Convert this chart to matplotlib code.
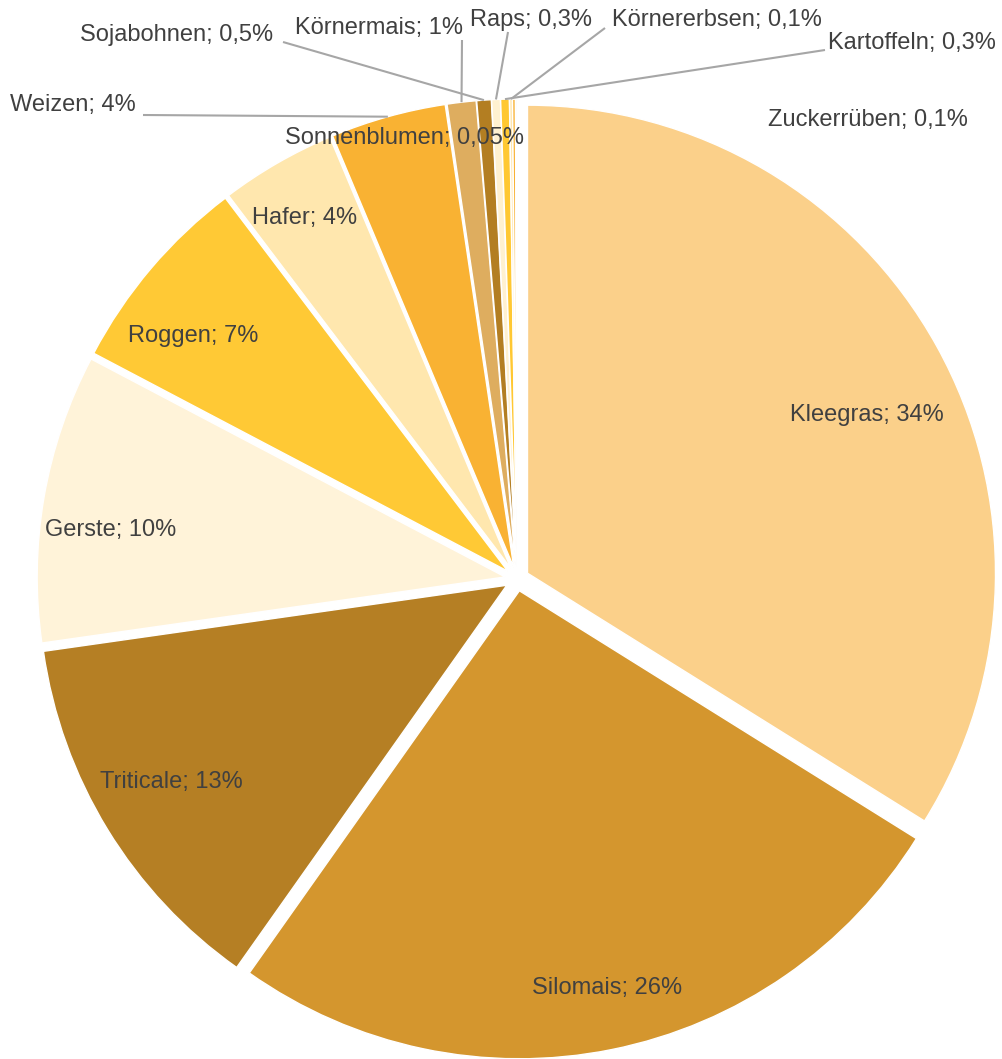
import numpy as np
import matplotlib.pyplot as plt

plt.rcParams['font.family'] = ['Liberation Sans', 'DejaVu Sans']

# Anteile der Kulturen (%)
crops = ["Kleegras", "Silomais", "Triticale", "Gerste", "Roggen", "Hafer", "Weizen",
         "Körnermais", "Sojabohnen", "Raps", "Kartoffeln", "Körnererbsen",
         "Zuckerrüben", "Sonnenblumen"]
shares = [34, 26, 13, 10, 7, 4, 4, 1, 0.5, 0.3, 0.3, 0.1, 0.1, 0.05]
share_text = ["34%", "26%", "13%", "10%", "7%", "4%", "4%", "1%", "0,5%", "0,3%",
              "0,3%", "0,1%", "0,1%", "0,05%"]
colors = ["#FBD08A", "#D4962E", "#B57F24", "#FFF3D9", "#FFC935", "#FFE7AE", "#F9B233",
          "#DEAD5F", "#B37E22", "#FFF1D0", "#FFC832", "#FFE7AE", "#F9B233", "#C9C9C9"]

W, H = 1003, 1059
TXT = "#404040"
LINE = "#A6A6A6"

fig = plt.figure(figsize=(W / 100, H / 100), dpi=100)
ax = fig.add_axes([0, 0, 1, 1])

def px(x, y):
    return (x, H - y)

wedges, _ = ax.pie(shares, colors=colors, startangle=90, counterclock=False,
                   center=px(517, 579), radius=468, explode=[12] * len(shares),
                   wedgeprops=dict(edgecolor="white", linewidth=1.0))
ax.set_xlim(0, W)
ax.set_ylim(0, H)
ax.set_aspect("equal")
ax.axis("off")

def mid_point(w, frac, dang=0.0):
    a = np.deg2rad((w.theta1 + w.theta2) / 2 + dang)
    cx, cy = w.center
    return cx + frac * w.r * np.cos(a), cy + frac * w.r * np.sin(a)

# Beschriftungen innen: Abstand und Winkelkorrektur
inner_frac = [0.80, 0.87, 0.83, 0.85, 0.84, 0.87]
inner_dang = [-4, 1, -1, 3, 3.5, 0.5]
for i in range(6):
    x, y = mid_point(wedges[i], inner_frac[i], inner_dang[i])
    ax.text(x, y, f"{crops[i]}; {share_text[i]}", ha="center", va="center",
            fontsize=17, color=TXT)

# Beschriftungen mit Führungslinien: (Index, Textposition, Linienanfang)
outside = [
    (6, (10, 105), (143, 115)),
    (7, (295, 28), (462, 40)),
    (8, (80, 35), (283, 42)),
    (9, (470, 20), (508, 32)),
    (11, (612, 20), (605, 28)),
    (10, (828, 43), (825, 50)),
]
for i, tpos, lstart in outside:
    ax.text(*px(*tpos), f"{crops[i]}; {share_text[i]}", ha="left", va="center",
            fontsize=17, color=TXT)
    ex, ey = mid_point(wedges[i], 1.0)
    sx, sy = px(*lstart)
    ax.plot([sx, ex], [sy, ey], color=LINE, lw=1.5, solid_capstyle="butt")

# ohne Führungslinie
ax.text(*px(768, 120), f"{crops[12]}; {share_text[12]}", ha="left", va="center",
        fontsize=17, color=TXT)
ax.text(*px(405, 138), f"{crops[13]}; {share_text[13]}", ha="center", va="center",
        fontsize=17, color=TXT)

fig.savefig("out.png", dpi=100)
